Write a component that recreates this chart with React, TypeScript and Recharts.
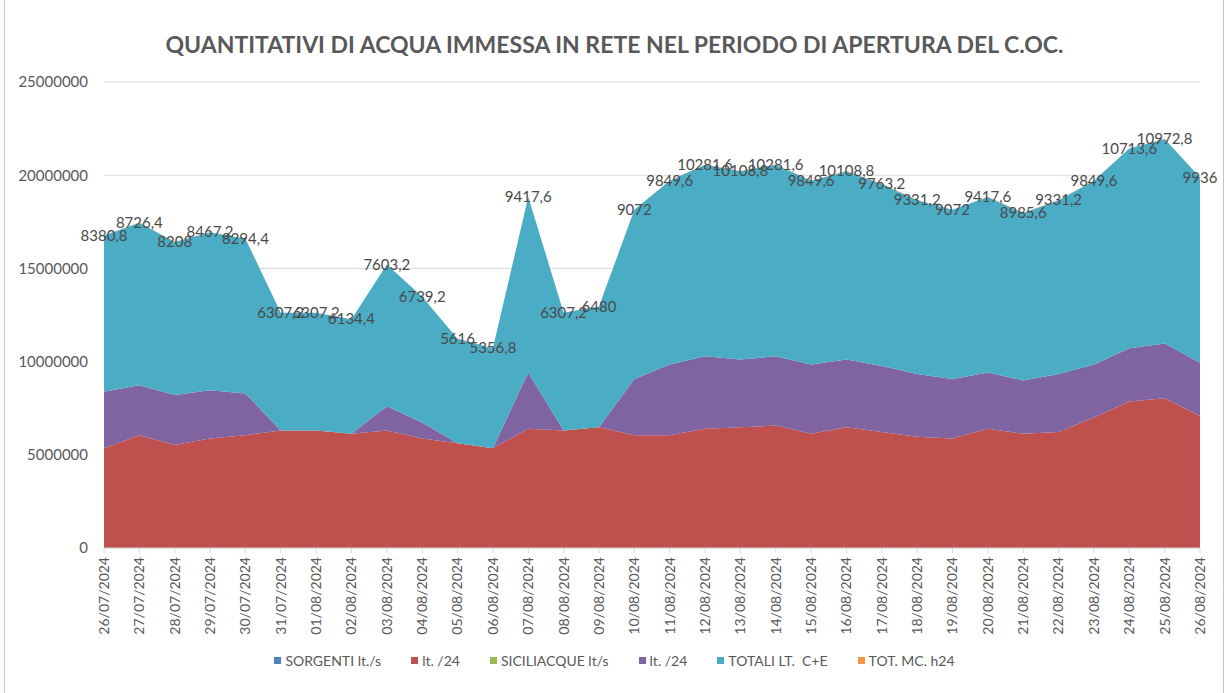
import {
  Area,
  AreaChart,
  CartesianGrid,
  LabelList,
  XAxis,
  YAxis
} from "recharts";

const dates = [
  "26/07/2024", "27/07/2024", "28/07/2024", "29/07/2024", "30/07/2024", "31/07/2024",
  "01/08/2024", "02/08/2024", "03/08/2024", "04/08/2024", "05/08/2024", "06/08/2024",
  "07/08/2024", "08/08/2024", "09/08/2024", "10/08/2024", "11/08/2024", "12/08/2024",
  "13/08/2024", "14/08/2024", "15/08/2024", "16/08/2024", "17/08/2024", "18/08/2024",
  "19/08/2024", "20/08/2024", "21/08/2024", "22/08/2024", "23/08/2024", "24/08/2024",
  "25/08/2024", "26/08/2024"
];

// sorgenti, lt/s and litres per day
const sorgentiLs = [
  62, 70, 64, 68, 70, 73, 73, 71, 73, 68, 65, 62, 74, 73, 75, 70,
  70, 74, 75, 76, 71, 75, 72, 69, 68, 74, 71, 72, 81, 91, 93, 82
];
const sorgentiLt24 = [
  5356800, 6048000, 5529600, 5875200, 6048000, 6307200, 6307200, 6134400,
  6307200, 5875200, 5616000, 5356800, 6393600, 6307200, 6480000, 6048000,
  6048000, 6393600, 6480000, 6566400, 6134400, 6480000, 6220800, 5961600,
  5875200, 6393600, 6134400, 6220800, 6998400, 7862400, 8035200, 7084800
];

// siciliacque, lt/s and litres per day
const siciliacqueLs = [
  35, 31, 31, 30, 26, 0, 0, 0, 15, 10, 0, 0, 35, 0, 0, 35,
  44, 45, 42, 43, 43, 42, 41, 39, 37, 35, 33, 36, 33, 33, 34, 33
];
const siciliacqueLt24 = [
  3024000, 2678400, 2678400, 2592000, 2246400, 0, 0, 0,
  1296000, 864000, 0, 0, 3024000, 0, 0, 3024000,
  3801600, 3888000, 3628800, 3715200, 3715200, 3628800, 3542400, 3369600,
  3196800, 3024000, 2851200, 3110400, 2851200, 2851200, 2937600, 2851200
];

const totaliLt = [
  8380800, 8726400, 8208000, 8467200, 8294400, 6307200, 6307200, 6134400,
  7603200, 6739200, 5616000, 5356800, 9417600, 6307200, 6480000, 9072000,
  9849600, 10281600, 10108800, 10281600, 9849600, 10108800, 9763200, 9331200,
  9072000, 9417600, 8985600, 9331200, 9849600, 10713600, 10972800, 9936000
];

const totMcH24 = [
  8380.8, 8726.4, 8208, 8467.2, 8294.4, 6307.2, 6307.2, 6134.4,
  7603.2, 6739.2, 5616, 5356.8, 9417.6, 6307.2, 6480, 9072,
  9849.6, 10281.6, 10108.8, 10281.6, 9849.6, 10108.8, 9763.2, 9331.2,
  9072, 9417.6, 8985.6, 9331.2, 9849.6, 10713.6, 10972.8, 9936
];

const yTicks = [0, 5000000, 10000000, 15000000, 20000000, 25000000];

const series = [
  { key: "sorgLs", name: "SORGENTI lt./s", color: "#4F81BD" },
  { key: "sorgLt", name: "lt. /24", color: "#C0504D" },
  { key: "sicLs", name: "SICILIACQUE lt/s", color: "#9BBB59" },
  { key: "sicLt", name: "lt. /24", color: "#8064A2" },
  { key: "totLt", name: "TOTALI LT.  C+E", color: "#4BACC6" },
  { key: "totMc", name: "TOT. MC. h24", color: "#F79646" }
];

const data = dates.map((date, i) => ({
  date,
  sorgLs: sorgentiLs[i],
  sorgLt: sorgentiLt24[i],
  sicLs: siciliacqueLs[i],
  sicLt: siciliacqueLt24[i],
  totLt: totaliLt[i],
  totMc: totMcH24[i]
}));

const FONT = "Lato, 'Liberation Sans', sans-serif";

function DateTick(props: any) {
  const { x, y, payload } = props;
  return (
    <text
      x={x}
      y={y + 2}
      transform={`rotate(-90, ${x}, ${y + 2})`}
      textAnchor="end"
      dy="0.35em"
      fontSize={14}
      fontFamily={FONT}
      fill="#595959"
    >
      {payload.value}
    </text>
  );
}

function TotalLabel(props: any) {
  const { x, y, value } = props;
  return (
    <text
      x={x}
      y={y}
      textAnchor="middle"
      dy="0.35em"
      fontSize={15}
      fontFamily={FONT}
      fill="#4a4a4a"
    >
      {String(value).replace(".", ",")}
    </text>
  );
}

export default function App() {
  return (
    <div
      style={{
        position: "absolute",
        left: 0,
        top: 0,
        width: 1229,
        height: 693,
        background: "#fff",
        fontFamily: FONT
      }}
    >
      <div
        style={{
          position: "absolute",
          left: 4,
          top: 0,
          width: 1218,
          height: 693,
          borderLeft: "1px solid #c8c8c8",
          borderRight: "1px solid #c8c8c8"
        }}
      />
      <div
        style={{
          position: "absolute",
          left: 0,
          top: 30,
          width: 1229,
          textAlign: "center",
          fontSize: 23,
          fontWeight: 700,
          color: "#595959"
        }}
      >
        QUANTITATIVI DI ACQUA IMMESSA IN RETE NEL PERIODO DI APERTURA DEL C.OC.
      </div>
      <AreaChart
        width={1229}
        height={693}
        data={data}
        margin={{ top: 82, right: 29, left: 0, bottom: 65 }}
        style={{ position: "absolute", left: 0, top: 0 }}
      >
        <CartesianGrid vertical={false} stroke="#d9d9d9" />
        <XAxis
          dataKey="date"
          interval={0}
          height={80}
          tick={<DateTick />}
          tickSize={5}
          tickLine={{ stroke: "#d9d9d9" }}
          axisLine={{ stroke: "#d9d9d9" }}
        />
        <YAxis
          width={104}
          domain={[0, 25000000]}
          ticks={yTicks}
          axisLine={false}
          tickLine={false}
          tickMargin={10}
          tick={{ fill: "#595959", fontSize: 15, fontFamily: FONT }}
        />
        {series.map((s) => (
          <Area
            key={s.key}
            type="linear"
            dataKey={s.key}
            name={s.name}
            stackId="a"
            stroke="none"
            fill={s.color}
            fillOpacity={1}
            dot={false}
            activeDot={false}
            isAnimationActive={false}
          >
            {s.key === "totMc" && (
              <LabelList dataKey="totMc" content={<TotalLabel />} />
            )}
          </Area>
        ))}
      </AreaChart>
      <div
        style={{
          position: "absolute",
          left: 0,
          top: 652,
          width: 1229,
          display: "flex",
          justifyContent: "center",
          gap: 30,
          fontSize: 14,
          color: "#595959"
        }}
      >
        {series.map((s) => (
          <div key={s.key} style={{ display: "flex", alignItems: "center" }}>
            <span
              style={{
                display: "inline-block",
                width: 7,
                height: 7,
                background: s.color,
                marginRight: 4
              }}
            />
            <span style={{ whiteSpace: "pre" }}>{s.name}</span>
          </div>
        ))}
      </div>
    </div>
  );
}
